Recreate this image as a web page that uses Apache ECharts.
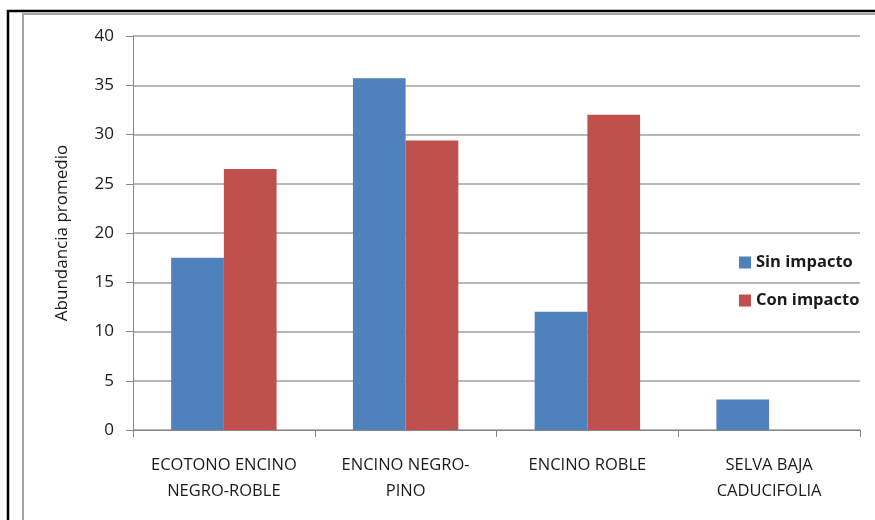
<!DOCTYPE html>
<html>
<head>
<meta charset="utf-8">
<script src="https://cdn.jsdelivr.net/npm/echarts@6/dist/echarts.min.js"></script>
<style>
html,body{margin:0;padding:0;background:#fff;}
#chart{width:875px;height:520px;}
</style>
</head>
<body>
<div id="chart"></div>
<script>
var categories = ['ECOTONO ENCINO\nNEGRO-ROBLE', 'ENCINO NEGRO-\nPINO', 'ENCINO ROBLE', 'SELVA BAJA\nCADUCIFOLIA'];
var sinImpacto = [17.5, 35.7, 12, 3.1];
var conImpacto = [26.5, 29.4, 32, 0];
var yTicks = [0, 5, 10, 15, 20, 25, 30, 35, 40];

var font = 'Open Sans';
var chart = echarts.init(document.getElementById('chart'));
chart.setOption({
  animation: false,
  backgroundColor: '#fff',
  graphic: [
    {type: 'rect', shape: {x: 8, y: 11, width: 900, height: 600}, style: {fill: 'none', stroke: '#000', lineWidth: 2.5}},
    {type: 'rect', shape: {x: 23, y: 14, width: 900, height: 600}, style: {fill: 'none', stroke: '#a6a6a6', lineWidth: 2}}
  ],
  grid: {left: 133, right: 15, top: 36, bottom: 90},
  legend: {
    orient: 'vertical',
    left: 734,
    top: 249,
    itemWidth: 12,
    itemHeight: 12,
    itemGap: 21,
    icon: 'rect',
    textStyle: {fontFamily: font, fontSize: 16.5, fontWeight: 'bold', color: '#1a1a1a'},
    data: ['Sin impacto', 'Con impacto']
  },
  xAxis: {
    type: 'category',
    data: categories,
    axisLine: {lineStyle: {color: '#888', width: 1}},
    axisTick: {show: true, length: 7, lineStyle: {color: '#888'}},
    axisLabel: {fontFamily: font, fontSize: 16.5, color: '#1a1a1a', margin: 22, lineHeight: 26, interval: 0}
  },
  yAxis: {
    type: 'value',
    min: 0,
    max: 40,
    interval: 5,
    name: 'Abundancia promedio',
    nameLocation: 'middle',
    nameGap: 62,
    nameTextStyle: {fontFamily: font, fontSize: 17, color: '#1a1a1a'},
    axisLine: {show: true, lineStyle: {color: '#888'}},
    axisTick: {show: true, length: 7, lineStyle: {color: '#888'}},
    axisLabel: {fontFamily: font, fontSize: 17, color: '#1a1a1a', margin: 19},
    splitLine: {lineStyle: {color: '#a0a0a0', width: 1.5}}
  },
  series: [
    {name: 'Sin impacto', type: 'bar', data: sinImpacto, barGap: '0%', barCategoryGap: '42%',
     itemStyle: {color: '#4f81bd'}},
    {name: 'Con impacto', type: 'bar', data: conImpacto,
     itemStyle: {color: '#c0504d'}}
  ]
});
</script>
</body>
</html>
